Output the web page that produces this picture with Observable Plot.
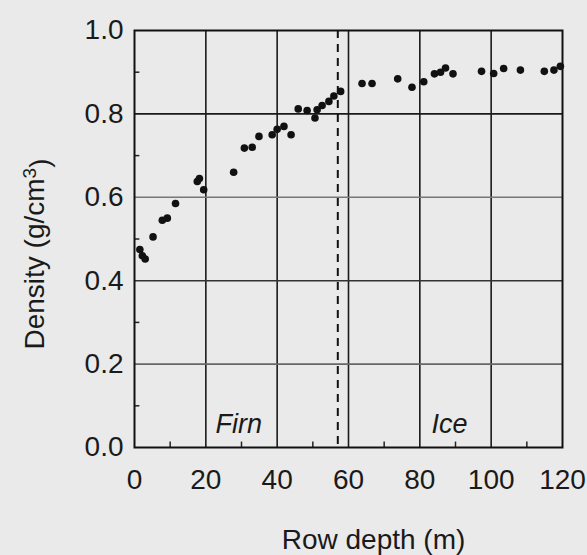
<!DOCTYPE html>
<html>
<head>
<meta charset="utf-8">
<script src="https://cdn.jsdelivr.net/npm/d3@7"></script>
<script src="https://cdn.jsdelivr.net/npm/@observablehq/plot@0.6"></script>
<style>
  html, body { margin: 0; padding: 0; background: #eaeaea; }
  #chart { width: 587px; height: 555px; }
</style>
</head>
<body>
<div id="chart"></div>
<script>
// Row depth (m)
const depth = [1.5, 2.2, 3.0, 5.2, 7.8, 9.2, 11.5, 17.6, 18.2, 19.4, 27.8, 30.8, 33.0, 34.9, 38.6, 40.0, 41.9, 43.9,
  45.9, 48.4, 50.6, 51.2, 52.6, 54.5, 55.9, 57.8, 63.8, 66.6, 73.8, 77.8, 81.1, 84.1, 85.8, 87.2, 89.3,
  97.3, 100.7, 103.5, 108.2, 114.9, 117.6, 119.4];
// Density (g/cm3)
const density = [0.475, 0.46, 0.452, 0.505, 0.545, 0.55, 0.585, 0.638, 0.645, 0.618, 0.66, 0.718, 0.72, 0.746, 0.75, 0.763, 0.77, 0.75,
  0.812, 0.808, 0.79, 0.81, 0.82, 0.83, 0.843, 0.854, 0.873, 0.873, 0.884, 0.864, 0.877, 0.896, 0.9, 0.91, 0.896,
  0.902, 0.897, 0.909, 0.905, 0.902, 0.905, 0.914];

const xTicks = [0, 20, 40, 60, 80, 100, 120];
const yTicks = [0.0, 0.2, 0.4, 0.6, 0.8, 1.0];
const xGrid = [20, 40, 60, 80, 100];
const yGrid = [0.2, 0.4, 0.6, 0.8];
const yGridColor = ["#666", "#333", "#777", "#1a1a1a"];
const xMinor = [10, 30, 50, 70, 90, 110];
const yMinor = [0.1, 0.3, 0.5, 0.7, 0.9];
const firnIceBoundary = [57];
const zoneLabels = [{label: "Firn", x: 29.2, y: 0.055}, {label: "Ice", x: 88.3, y: 0.055}];
const xTitle = "Row depth (m)";
const yTitle = "Density (g/cm3)";

const data = depth.map((d, i) => ({depth: d, density: density[i]}));
const yGridData = yGrid.map((v, i) => ({v, c: yGridColor[i]}));

const font = "'Liberation Sans', Arial, Helvetica, sans-serif";

const chart = Plot.plot({
  width: 587,
  height: 555,
  marginLeft: 134,
  marginRight: 25,
  marginTop: 30,
  marginBottom: 108,
  style: {background: "transparent", fontFamily: font, fontSize: "28px", color: "#111"},
  x: {domain: [0, 120], label: null},
  y: {domain: [0, 1], label: null},
  marks: [
    Plot.ruleX(xGrid, {stroke: "#1a1a1a", strokeWidth: 1.6}),
    Plot.ruleY(yGridData, {y: "v", stroke: "c", strokeWidth: 1.6}),
    Plot.ruleX(xMinor, {y1: 0, y2: 0.013, stroke: "#222", strokeWidth: 1.5}),
    Plot.ruleY(yMinor, {x1: 0, x2: 1.5, stroke: "#222", strokeWidth: 1.5}),
    Plot.ruleX(firnIceBoundary, {stroke: "#111", strokeWidth: 2, strokeDasharray: "8,6"}),
    Plot.frame({stroke: "#111", strokeWidth: 2}),
    Plot.dot(data, {x: "depth", y: "density", r: 3.8, fill: "#111", stroke: "none"}),
    Plot.text(zoneLabels, {x: "x", y: "y", text: "label", fontStyle: "italic", fontSize: 27, fill: "#1a1a1a"}),
    Plot.axisX(xTicks, {tickSize: 0, tickPadding: 22, fontSize: 28, fill: "#1a1a1a", label: null}),
    Plot.axisY(yTicks, {tickSize: 0, tickPadding: 11, fontSize: 28, fill: "#1a1a1a", tickFormat: d3.format(".1f"), label: null}),
    Plot.text([xTitle], {frameAnchor: "bottom", dx: 25, dy: 101, fontSize: 28, fill: "#1a1a1a"}),
    Plot.text([yTitle], {frameAnchor: "left", textAnchor: "middle", dx: -99, dy: 15, rotate: -90, fontSize: 28, fill: "#1a1a1a"})
  ]
});

// render the superscript in the y title
d3.select(chart).selectAll("text").each(function () {
  if (this.textContent === yTitle) {
    const t = d3.select(this);
    t.text(null);
    t.append("tspan").text("Density (g/cm");
    t.append("tspan").attr("dy", "-0.45em").attr("font-size", "19px").text("3");
    t.append("tspan").attr("dy", "0.45em").text(")");
  }
});

document.getElementById("chart").appendChild(chart);
</script>
</body>
</html>
